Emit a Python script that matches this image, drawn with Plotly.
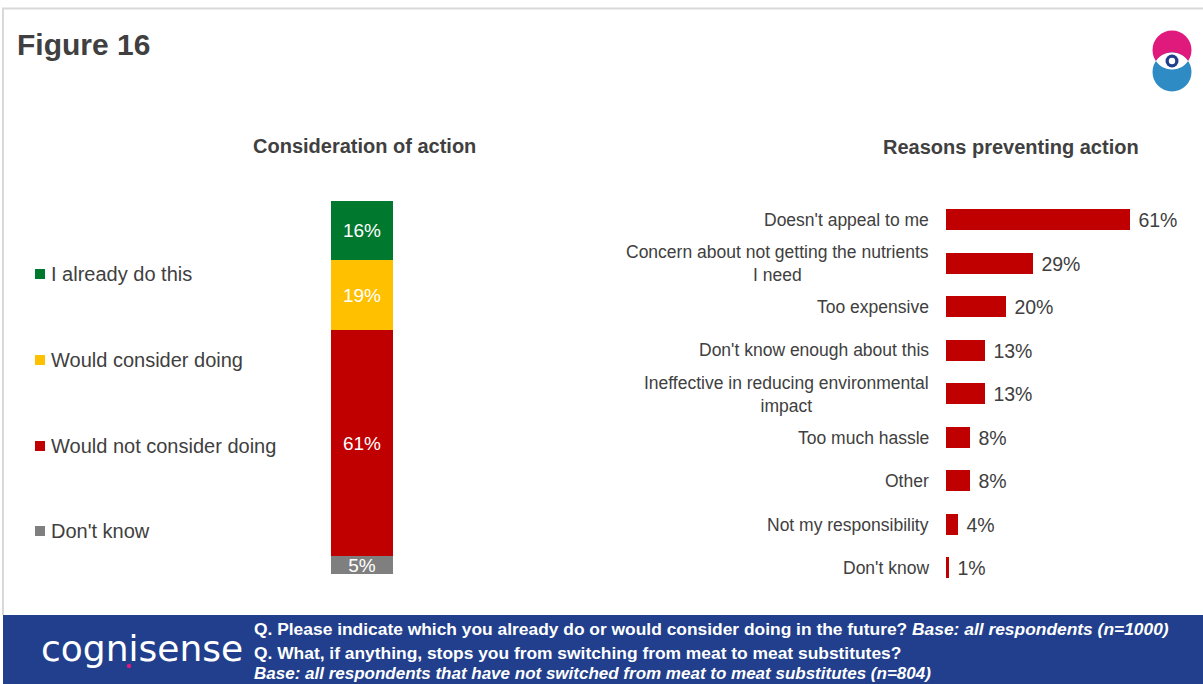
import numpy as np
import plotly.graph_objects as go

W, H = 1203, 684

# ---- data ----
consider_labels = ["Don't know", "Would not consider doing", "Would consider doing", "I already do this"]
consider_values = [5, 61, 19, 16]
consider_colors = ["#7f7f7f", "#c00000", "#ffc000", "#00792f"]

reasons = [
    "Doesn't appeal to me",
    "Concern about not getting the nutrients<br>I need",
    "Too expensive",
    "Don't know enough about this",
    "Ineffective in reducing environmental<br>impact",
    "Too much hassle",
    "Other",
    "Not my responsibility",
    "Don't know",
]
reason_values = [61, 29, 20, 13, 13, 8, 8, 4, 1]

FONT = "Arial, Liberation Sans, sans-serif"
GREY = "#404040"


def px(x):
    return x / W


def py(y):
    return 1 - y / H


fig = go.Figure()

# ---- left: stacked consideration bar ----
for lab, val, col in zip(consider_labels, consider_values, consider_colors):
    fig.add_trace(go.Bar(
        x=["all"], y=[val], name=lab, marker_color=col, marker_line_width=0,
        width=1, text=[f"{val}%"], textposition="inside", insidetextanchor="middle",
        constraintext="none", textfont=dict(color="white", size=19, family=FONT),
        showlegend=False, xaxis="x", yaxis="y", hoverinfo="skip",
    ))

# ---- right: reasons bar ----
fig.add_trace(go.Bar(
    y=reasons, x=reason_values, orientation="h", marker_color="#c00000",
    marker_line_width=0, width=0.48, text=[f" {v}%" for v in reason_values],
    textposition="outside", constraintext="none", cliponaxis=False,
    textfont=dict(color=GREY, size=19.5, family=FONT),
    showlegend=False, xaxis="x2", yaxis="y2", hoverinfo="skip",
))

annotations = []
for r in reasons:
    annotations.append(dict(
        x=px(931), y=r, xref="paper", yref="y2", xanchor="right", yanchor="middle",
        text=r, align="center", showarrow=False,
        font=dict(size=17.5, color=GREY, family=FONT),
    ))

shapes = []

# legend for the stacked bar, top item first
legend_rows = [274, 360, 446, 531]
for (lab, col), yy in zip(list(zip(consider_labels, consider_colors))[::-1], legend_rows):
    shapes.append(dict(type="rect", xref="paper", yref="paper",
                       x0=px(35), x1=px(45), y0=py(yy + 5), y1=py(yy - 5),
                       fillcolor=col, line_width=0))
    annotations.append(dict(x=px(49), y=py(yy), xref="paper", yref="paper",
                            xanchor="left", yanchor="middle", text=lab, showarrow=False,
                            font=dict(size=20, color=GREY, family=FONT)))

annotations += [
    dict(x=px(15), y=py(44), xref="paper", yref="paper", xanchor="left", yanchor="middle",
         text="<b>Figure 16</b>", showarrow=False, font=dict(size=30, color=GREY, family=FONT)),
    dict(x=px(364.5), y=py(146), xref="paper", yref="paper", xanchor="center", yanchor="middle",
         text="<b>Consideration of action</b>", showarrow=False,
         font=dict(size=20, color=GREY, family=FONT)),
    dict(x=px(1010.5), y=py(147), xref="paper", yref="paper", xanchor="center", yanchor="middle",
         text="<b>Reasons preventing action</b>", showarrow=False,
         font=dict(size=20, color=GREY, family=FONT)),
    dict(x=px(39), y=py(648), xref="paper", yref="paper", xanchor="left", yanchor="middle",
         text="cognisense", showarrow=False,
         font=dict(size=36, color="white", family="DejaVu Sans, sans-serif")),
    dict(x=px(252), y=py(629), xref="paper", yref="paper", xanchor="left", yanchor="middle",
         text="<b>Q. Please indicate which you already do or would consider doing in the future? "
              "<i>Base: all respondents (n=1000)</i></b>",
         showarrow=False, font=dict(size=17.4, color="white", family=FONT)),
    dict(x=px(252), y=py(653), xref="paper", yref="paper", xanchor="left", yanchor="middle",
         text="<b>Q. What, if anything, stops you from switching from meat to meat substitutes?</b>",
         showarrow=False, font=dict(size=17.4, color="white", family=FONT)),
    dict(x=px(252), y=py(673), xref="paper", yref="paper", xanchor="left", yanchor="middle",
         text="<b><i>Base: all respondents that have not switched from meat to meat substitutes (n=804)</i></b>",
         showarrow=False, font=dict(size=17, color="white", family=FONT)),
]


def circle(cx, cy, r, color):
    return dict(type="circle", xref="paper", yref="paper",
                x0=px(cx - r), x1=px(cx + r), y0=py(cy + r), y1=py(cy - r),
                fillcolor=color, line_width=0, layer="above")


# lens where the two logo circles overlap
cx, r = 1172, 19.5
c_top, c_bot = 50, 72
h = (c_bot - c_top) / 2
half = np.degrees(np.arccos(h / r))
pts = []
for a in np.linspace(-half, half, 24):  # lower arc of the top circle
    t = np.radians(90 + a)
    pts.append((cx + r * np.cos(t), c_top + r * np.sin(t)))
for a in np.linspace(half, -half, 24):  # upper arc of the bottom circle
    t = np.radians(-90 + a)
    pts.append((cx + r * np.cos(t), c_bot + r * np.sin(t)))
lens_path = "M " + " L ".join(f"{px(x):.5f},{py(y):.5f}" for x, y in pts) + " Z"

shapes += [
    # slide frame
    dict(type="line", xref="paper", yref="paper", x0=px(2), x1=1, y0=py(8.5), y1=py(8.5),
         line=dict(color="#d9d9d9", width=2)),
    dict(type="line", xref="paper", yref="paper", x0=px(3), x1=px(3), y0=py(8), y1=py(615),
         line=dict(color="#d9d9d9", width=2)),
    # footer band
    dict(type="rect", xref="paper", yref="paper", x0=px(3), x1=1, y0=0, y1=py(615),
         fillcolor="#213f8c", line_width=0, layer="below"),
    # logo
    circle(cx, c_top, r, "#e0197d"),
    circle(cx, c_bot, r, "#2e8bc4"),
    dict(type="path", xref="paper", yref="paper", path=lens_path, fillcolor="white",
         line_width=0, layer="above"),
    circle(cx, 61, 6.5, "#213f8c"),
    circle(cx, 61, 3.2, "white"),
    # dot in the wordmark
    circle(129, 666, 2.2, "#e0197d"),
]

fig.update_layout(
    width=W, height=H, autosize=False,
    margin=dict(l=0, r=0, t=0, b=0),
    paper_bgcolor="white", plot_bgcolor="rgba(0,0,0,0)",
    barmode="stack", bargap=0,
    font=dict(family=FONT, color=GREY),
    showlegend=False,
    xaxis=dict(domain=[px(331), px(393)], range=[-0.5, 0.5], visible=False, fixedrange=True),
    yaxis=dict(domain=[py(574), py(201)], range=[0, 101], visible=False, fixedrange=True),
    xaxis2=dict(domain=[px(946), px(946 + 70 * 3.016)], range=[0, 70], visible=False,
                anchor="y2", fixedrange=True),
    yaxis2=dict(domain=[py(589.8), py(198.2)], range=[8.5, -0.5], visible=False,
                anchor="x2", type="category", categoryorder="array", categoryarray=reasons,
                fixedrange=True),
    annotations=annotations,
    shapes=shapes,
)

fig.write_html("out.html", config={"displayModeBar": False})
